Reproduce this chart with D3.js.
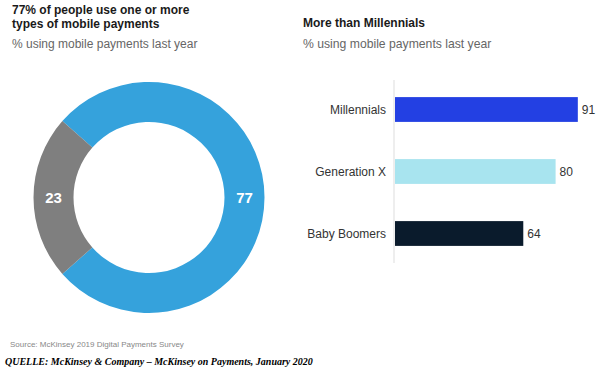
<!DOCTYPE html>
<html>
<head>
<meta charset="utf-8">
<script src="https://cdn.jsdelivr.net/npm/d3@7"></script>
<style>
  body { margin: 0; background: #fff; }
  svg { display: block; font-family: "Liberation Sans", Arial, sans-serif; }
</style>
</head>
<body>
<div id="chart"></div>
<script>
// donut data
const shareLabels = ["77", "23"];
const shareValues = [77, 23];
// bar data
const generations = ["Millennials", "Generation X", "Baby Boomers"];
const genValues = [91, 80, 64];

const W = 600, H = 371;
const svg = d3.select("#chart").append("svg")
  .attr("width", W).attr("height", H);

// --- titles
const leftTitle = svg.append("text")
  .attr("x", 12).attr("y", 14)
  .attr("font-size", 12).attr("font-weight", "bold").attr("fill", "#1a1a1a");
leftTitle.append("tspan").attr("x", 12).text("77% of people use one or more");
leftTitle.append("tspan").attr("x", 12).attr("dy", 14).text("types of mobile payments");

svg.append("text")
  .attr("x", 12).attr("y", 48)
  .attr("font-size", 12).attr("fill", "#666")
  .text("% using mobile payments last year");

svg.append("text")
  .attr("x", 303).attr("y", 27)
  .attr("font-size", 12).attr("font-weight", "bold").attr("fill", "#1a1a1a")
  .text("More than Millennials");

svg.append("text")
  .attr("x", 303).attr("y", 48)
  .attr("font-size", 12.2).attr("fill", "#666")
  .text("% using mobile payments last year");

// --- donut
const cx = 149, cy = 197.5, rOut = 115.5, rIn = 75.5;
const donutColors = ["#35a2dc", "#7f7f7f"];
const grayHalf = Math.PI * shareValues[1] / 100;   // half-span of the gray arc
const pie = d3.pie().sort(null).value(d => d)
  .startAngle(-Math.PI / 2 + grayHalf)
  .endAngle(-Math.PI / 2 + grayHalf + 2 * Math.PI);
const arc = d3.arc().innerRadius(rIn).outerRadius(rOut);
const arcs = pie(shareValues);

const dg = svg.append("g").attr("transform", `translate(${cx},${cy})`);
dg.selectAll("path").data(arcs).join("path")
  .attr("d", arc)
  .attr("fill", (d, i) => donutColors[i]);

const labelArc = d3.arc().innerRadius((rIn + rOut) / 2).outerRadius((rIn + rOut) / 2);
dg.selectAll("text").data(arcs).join("text")
  .attr("x", d => labelArc.centroid(d)[0])
  .attr("y", d => labelArc.centroid(d)[1])
  .attr("dy", "0.36em")
  .attr("text-anchor", "middle")
  .attr("font-size", 15).attr("font-weight", "bold").attr("fill", "#fff")
  .text((d, i) => shareLabels[i]);

// --- bars
const x = d3.scaleLinear().domain([0, 100]).range([394, 596]);
const y = d3.scaleBand().domain(generations).range([78.5, 264.5]).paddingInner(0.6).paddingOuter(0.3);
const barColors = ["#2340e3", "#a8e4ef", "#0a1b2c"];

svg.append("line")
  .attr("x1", x(0)).attr("x2", x(0))
  .attr("y1", 80).attr("y2", 263)
  .attr("stroke", "#e8e8e8").attr("stroke-width", 1.5);

svg.selectAll("rect.bar").data(generations).join("rect")
  .attr("class", "bar")
  .attr("x", x(0) + 1)
  .attr("y", d => y(d))
  .attr("width", (d, i) => x(genValues[i]) - x(0) - 1)
  .attr("height", y.bandwidth())
  .attr("fill", (d, i) => barColors[i]);

svg.selectAll("text.cat").data(generations).join("text")
  .attr("class", "cat")
  .attr("x", 386)
  .attr("y", d => y(d) + y.bandwidth() / 2)
  .attr("dy", "0.36em")
  .attr("text-anchor", "end")
  .attr("font-size", 12).attr("fill", "#333")
  .text(d => d);

svg.selectAll("text.val").data(generations).join("text")
  .attr("class", "val")
  .attr("x", (d, i) => x(genValues[i]) + 4)
  .attr("y", d => y(d) + y.bandwidth() / 2)
  .attr("dy", "0.36em")
  .attr("font-size", 12).attr("fill", "#333")
  .text((d, i) => genValues[i]);

// --- sources
svg.append("text")
  .attr("x", 10).attr("y", 347)
  .attr("font-size", 8).attr("fill", "#888")
  .text("Source: McKinsey 2019 Digital Payments Survey");

svg.append("text")
  .attr("x", 5).attr("y", 365)
  .attr("font-family", "'Liberation Serif', serif")
  .attr("font-size", 10).attr("font-weight", "bold").attr("font-style", "italic")
  .attr("fill", "#000")
  .text("QUELLE: McKinsey & Company – McKinsey on Payments, January 2020");
</script>
</body>
</html>
